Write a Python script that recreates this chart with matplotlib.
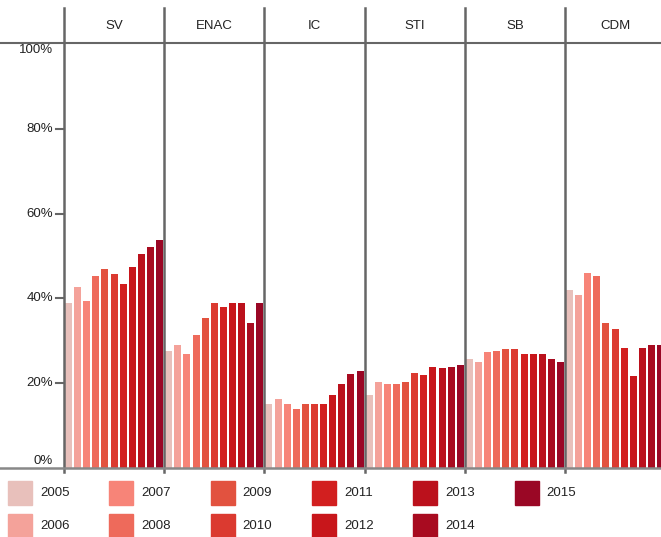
import matplotlib
matplotlib.use("Agg")
import matplotlib.pyplot as plt
from matplotlib.lines import Line2D
from matplotlib.patches import Rectangle

plt.rcParams['font.family'] = ['Liberation Sans', 'DejaVu Sans']

# data (share of something, %)
sections = ["SV", "ENAC", "IC", "STI", "SB", "CDM"]
years = ["2005", "2006", "2007", "2008", "2009", "2010",
         "2011", "2012", "2013", "2014", "2015"]
sv = [39.0, 42.8, 39.5, 45.4, 47.0, 45.8, 43.5, 47.5, 50.5, 52.2, 53.8]
enac = [27.7, 28.9, 26.8, 31.3, 35.3, 39.0, 37.9, 38.8, 38.8, 34.3, 38.8]
ic = [15.0, 16.2, 15.2, 14.0, 15.0, 15.0, 15.2, 17.3, 19.9, 22.1, 22.8]
sti = [17.3, 20.4, 19.7, 19.7, 20.4, 22.5, 22.0, 23.9, 23.7, 23.9, 24.4]
sb = [25.6, 25.1, 27.3, 27.7, 28.0, 28.0, 26.8, 26.8, 26.8, 25.6, 24.9]
cdm = [41.9, 40.7, 45.9, 45.2, 34.1, 32.7, 28.4, 21.6, 28.4, 29.1, 29.1]
values = [sv, enac, ic, sti, sb, cdm]

colors = ["#e8c0bb", "#f4a29a", "#f78478", "#ee6a5b", "#e2523f", "#db3a30",
          "#d21f1f", "#c8161b", "#bb111c", "#a80b20", "#9a0725"]

W, H = 661, 537
FS = 9.5
fig = plt.figure(figsize=(W / 100, H / 100), dpi=100)

# plot area in pixels
left, right, top, bottom = 64, 661, 44, 468
panel_w = 100.2
ax = fig.add_axes([left / W, 1 - bottom / H, (right - left) / W, (bottom - top) / H])
ax.set_xlim(0, (right - left) / panel_w)
ax.set_ylim(0, 100)
ax.axis("off")

n = len(years)
step = 1.0 / n
for i, sec in enumerate(sections):
    for j, v in enumerate(values[i]):
        ax.bar(i + (j + 0.5) * step, v, width=step * 0.77, color=colors[j], linewidth=0)
    # panel divider
    ax.axvline(i, ymin=-4 / 424, ymax=(bottom - 8) / 424, color="#666666", lw=1.8, clip_on=False)
    ax.text(i + 0.5, 100 + 18 / 4.24, sec, ha="center", va="center", fontsize=FS, color="#222222")

# frame lines spanning the whole width
fig.add_artist(Line2D([0, 1], [1 - 43 / H, 1 - 43 / H], color="#666666", lw=1.5))
fig.add_artist(Line2D([0, 1], [1 - bottom / H, 1 - bottom / H], color="#888888", lw=1.8))

# y ticks
for t in [20, 40, 60, 80]:
    ax.plot([-8 / panel_w, 0], [t, t], color="#666666", lw=1.5, clip_on=False)
    ax.text(-11 / panel_w, t, f"{t}%", ha="right", va="center", fontsize=FS, color="#222222")
ax.text(-11 / panel_w, 100 - 6 / 4.24, "100%", ha="right", va="center", fontsize=FS, color="#222222")
ax.text(-11 / panel_w, 7 / 4.24, "0%", ha="right", va="center", fontsize=FS, color="#222222")

# legend, two rows
for k, yr in enumerate(years):
    col, row = k // 2, k % 2
    x0 = 8 + col * 101.3
    yc = 493 + row * 33
    fig.add_artist(Rectangle((x0 / W, 1 - (yc + 12) / H), 24 / W, 24 / H,
                             color=colors[k], transform=fig.transFigure))
    fig.text((x0 + 32) / W, 1 - yc / H, yr, ha="left", va="center", fontsize=FS, color="#222222")

fig.savefig("out.png", dpi=100)
